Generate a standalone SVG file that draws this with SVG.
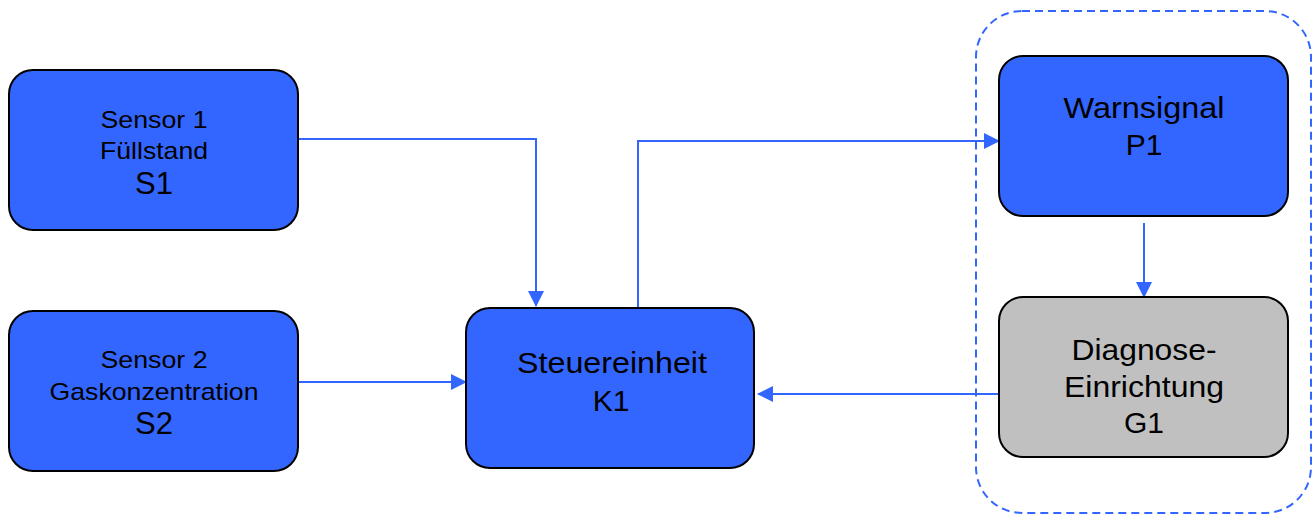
<svg xmlns="http://www.w3.org/2000/svg" width="1316" height="515" viewBox="0 0 1316 515">
<style>
.box{fill:#3366FF;stroke:#000;stroke-width:2}
.grey{fill:#C0C0C0;stroke:#000;stroke-width:2}
.t{font-family:"Liberation Sans",Arial,sans-serif;fill:#000;text-anchor:middle}
.s{font-size:24px}
.m{font-size:31px}
.l{font-size:30px}
.c{fill:none;stroke:#3366FF;stroke-width:2}
.grp{fill:none;stroke:#3366FF;stroke-width:2;stroke-dasharray:8 5}
</style>
<defs>
<marker id="ah" markerWidth="16" markerHeight="16" viewBox="0 0 16 16" refX="15" refY="8" orient="auto" markerUnits="userSpaceOnUse">
<path d="M0,0 L16,8 L0,16 Z" fill="#3366FF"/>
</marker>
</defs>
<rect class="grp" x="976" y="11" width="335" height="502" rx="46" ry="46"/>
<g id="connectors">
<path class="c" d="M298,139 H536 V306" marker-end="url(#ah)"/>
<path class="c" d="M298,382 H466" marker-end="url(#ah)"/>
<path class="c" d="M638,308 V141 H999" marker-end="url(#ah)"/>
<path class="c" d="M1144,223 V297" marker-end="url(#ah)"/>
<path class="c" d="M999,394 H758" marker-end="url(#ah)"/>
</g>
<g id="S1">
<rect class="box" x="9" y="70" width="289" height="160" rx="24" ry="24"/>
<text class="t s" x="154" y="128" textLength="107" lengthAdjust="spacingAndGlyphs">Sensor 1</text>
<text class="t s" x="154" y="159" textLength="108" lengthAdjust="spacingAndGlyphs">Füllstand</text>
<text class="t m" x="154" y="194">S1</text>
</g>
<g id="S2">
<rect class="box" x="9" y="311" width="289" height="160" rx="24" ry="24"/>
<text class="t s" x="154" y="368" textLength="107" lengthAdjust="spacingAndGlyphs">Sensor 2</text>
<text class="t s" x="154" y="400" textLength="209" lengthAdjust="spacingAndGlyphs">Gaskonzentration</text>
<text class="t m" x="154" y="434">S2</text>
</g>
<g id="K1">
<rect class="box" x="466" y="308" width="288" height="160" rx="24" ry="24"/>
<text class="t l" x="612" y="373" textLength="190" lengthAdjust="spacingAndGlyphs">Steuereinheit</text>
<text class="t l" x="611" y="411">K1</text>
</g>
<g id="P1">
<rect class="box" x="999" y="56" width="289" height="160" rx="24" ry="24"/>
<text class="t l" x="1144" y="118" textLength="161" lengthAdjust="spacingAndGlyphs">Warnsignal</text>
<text class="t l" x="1144" y="155">P1</text>
</g>
<g id="G1">
<rect class="grey" x="999" y="297" width="289" height="160" rx="24" ry="24"/>
<text class="t l" x="1144" y="360" textLength="145" lengthAdjust="spacingAndGlyphs">Diagnose-</text>
<text class="t l" x="1144" y="397" textLength="160" lengthAdjust="spacingAndGlyphs">Einrichtung</text>
<text class="t l" x="1144" y="433">G1</text>
</g>
</svg>
